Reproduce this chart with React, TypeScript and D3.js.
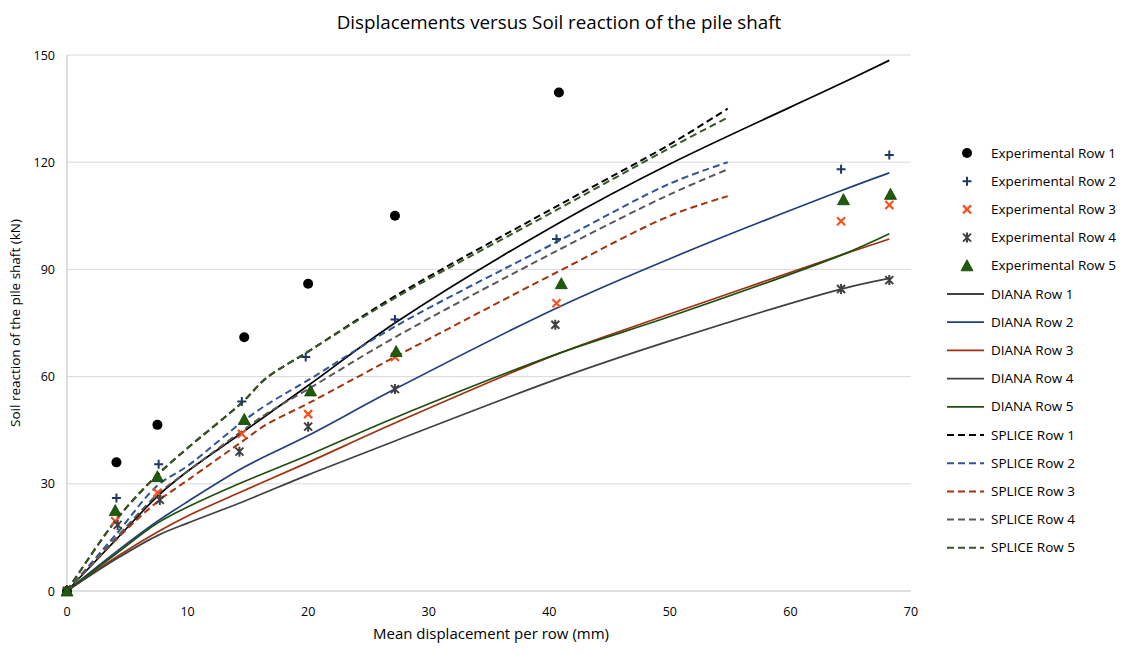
import React from "react";
import * as d3 from "d3";

// ---------- data ----------
const expX1 = [0, 4.1, 7.5, 14.7, 20, 27.2, 40.8];
const expY1 = [0, 36, 46.5, 71, 86, 105, 139.5];
const expX2 = [0, 4.1, 7.6, 14.5, 19.8, 27.2, 40.6, 64.2, 68.2];
const expY2 = [0, 26, 35.5, 53, 65.5, 76, 98.5, 118, 122];
const expX3 = [0, 4.0, 7.5, 14.5, 20, 27.2, 40.6, 64.2, 68.2];
const expY3 = [0, 19.5, 27.5, 44, 49.5, 65.5, 80.5, 103.5, 108];
const expX4 = [0, 4.2, 7.7, 14.3, 20, 27.2, 40.5, 64.2, 68.2];
const expY4 = [0, 18.5, 25.5, 39, 46, 56.5, 74.5, 84.5, 87];
const expX5 = [0, 4.0, 7.5, 14.7, 20.2, 27.3, 41, 64.4, 68.3];
const expY5 = [0, 22.5, 32, 48, 56, 67, 86, 109.5, 111];

const dianaX = [0, 4.1, 7.5, 10, 14.6, 20, 27.2, 40.8, 50, 64.2, 68.2];
const diana1 = [0, 14.5, 26.5, 33.5, 44.5, 57.5, 75, 103, 119.5, 142, 148.5];
const diana2 = [0, 11, 19.5, 25, 34.5, 43.5, 56.5, 79.5, 93, 112, 117];
const diana3 = [0, 9.5, 16.5, 21, 28, 36, 47, 66.5, 77.5, 94, 98.5];
const diana4 = [0, 9, 15.5, 19, 25, 32.5, 42, 59.5, 70, 84.5, 87.5];
const diana5 = [0, 10.5, 19, 23.5, 30.5, 38, 48.5, 66.5, 76.8, 94, 100];

const spliceX = [0, 4.1, 7.5, 10, 14.6, 16.5, 20, 27.2, 40.8, 50, 54.8];
const splice1 = [0, 20, 32.5, 40, 53, 59.5, 67, 82.5, 108, 125, 135];
const splice2 = [0, 16, 29.5, 35, 47.5, 52, 59, 74, 98, 114, 120];
const splice3 = [0, 14.5, 25, 31, 42, 46.5, 52.5, 65.5, 89.5, 105, 110.5];
const splice4 = [0, 15, 27, 33.5, 45, 49.5, 56.5, 71, 95.5, 111, 118];
const splice5 = [0, 20, 32.5, 40, 53, 59.5, 67, 82, 107, 124, 132.5];

const xTicks = [0, 10, 20, 30, 40, 50, 60, 70];
const yTicks = [0, 30, 60, 90, 120, 150];

const expNames = ["Experimental Row 1", "Experimental Row 2", "Experimental Row 3", "Experimental Row 4", "Experimental Row 5"];
const dianaNames = ["DIANA Row 1", "DIANA Row 2", "DIANA Row 3", "DIANA Row 4", "DIANA Row 5"];
const spliceNames = ["SPLICE Row 1", "SPLICE Row 2", "SPLICE Row 3", "SPLICE Row 4", "SPLICE Row 5"];

const expColors = ["#000000", "#1f3864", "#f4511e", "#404040", "#1e5b0a"];
const dianaColors = ["#000000", "#1f3f7a", "#a0300f", "#404040", "#1f4f0f"];
const spliceColors = ["#000000", "#2f5597", "#a5330f", "#595959", "#385723"];
const markerKinds = ["circle", "plus", "x", "star", "triangle"];

// ---------- layout ----------
const W = 1126;
const H = 659;
const left = 67;
const right = 911;
const top = 55;
const bottom = 591;
const FONT = "'Open Sans', sans-serif";

function Marker({ kind, x, y, color }: { kind: string; x: number; y: number; color: string }) {
  if (kind === "circle") return <circle cx={x} cy={y} r={5} fill={color} />;
  if (kind === "plus")
    return (
      <path d={`M${x - 4.5},${y}H${x + 4.5}M${x},${y - 4.5}V${y + 4.5}`} stroke={color} strokeWidth={2} fill="none" />
    );
  if (kind === "x")
    return (
      <path d={`M${x - 4},${y - 4}L${x + 4},${y + 4}M${x - 4},${y + 4}L${x + 4},${y - 4}`} stroke={color} strokeWidth={2.2} fill="none" />
    );
  if (kind === "star")
    return (
      <path
        d={`M${x - 4},${y - 4}L${x + 4},${y + 4}M${x - 4},${y + 4}L${x + 4},${y - 4}M${x},${y - 5}V${y + 5}`}
        stroke={color}
        strokeWidth={2}
        fill="none"
      />
    );
  return (
    <path
      d={`M${x},${y - 6}L${x + 6},${y + 5}L${x - 6},${y + 5}Z`}
      fill={color}
      stroke="#143d06"
      strokeWidth={0.8}
    />
  );
}

export default function App() {
  const xs = d3.scaleLinear().domain([0, 70]).range([left, right]);
  const ys = d3.scaleLinear().domain([0, 150]).range([bottom, top]);
  const line = d3
    .line<[number, number]>()
    .x((d) => xs(d[0]))
    .y((d) => ys(d[1]))
    .curve(d3.curveCatmullRom.alpha(0.5));

  const expSeries = [
    [expX1, expY1],
    [expX2, expY2],
    [expX3, expY3],
    [expX4, expY4],
    [expX5, expY5],
  ];
  const dianaSeries = [diana1, diana2, diana3, diana4, diana5];
  const spliceSeries = [splice1, splice2, splice3, splice4, splice5];

  const legendX = 947;
  const legendY0 = 153;
  const legendStep = 28.2;

  return (
    <svg width={W} height={H} style={{ display: "block", position: "absolute", left: 0, top: 0, background: "#fff" }} fontFamily={FONT}>
      <rect x={0} y={0} width={W} height={H} fill="#fff" />
      <text x={559} y={29} textAnchor="middle" fontSize={18.8} fill="#000">
        Displacements versus Soil reaction of the pile shaft
      </text>
      {/* grid */}
      {yTicks.map((t) => (
        <line key={t} x1={left} x2={right} y1={ys(t)} y2={ys(t)} stroke={t === 0 ? "#bfbfbf" : "#d9d9d9"} strokeWidth={1} />
      ))}
      <line x1={left} x2={left} y1={top} y2={bottom} stroke="#bfbfbf" strokeWidth={1} />
      {/* tick labels */}
      {yTicks.map((t) => (
        <text key={t} x={55} y={ys(t) + 4.5} textAnchor="end" fontSize={12.5} fill="#000">
          {t}
        </text>
      ))}
      {xTicks.map((t) => (
        <text key={t} x={xs(t)} y={616} textAnchor="middle" fontSize={12.5} fill="#000">
          {t}
        </text>
      ))}
      <text x={491} y={639} textAnchor="middle" fontSize={15} fill="#000">
        Mean displacement per row (mm)
      </text>
      <text transform={`translate(20,${(top + bottom) / 2}) rotate(-90)`} textAnchor="middle" fontSize={13.5} fill="#000">
        Soil reaction of the pile shaft (kN)
      </text>
      {/* DIANA lines */}
      {dianaSeries.map((s, i) => (
        <path key={"d" + i} d={line(dianaX.map((x, j) => [x, s[j]]) as [number, number][]) || ""} fill="none" stroke={dianaColors[i]} strokeWidth={1.7} />
      ))}
      {/* SPLICE lines */}
      {spliceSeries.map((s, i) => (
        <path
          key={"s" + i}
          d={line(spliceX.map((x, j) => [x, s[j]]) as [number, number][]) || ""}
          fill="none"
          stroke={spliceColors[i]}
          strokeWidth={2}
          strokeDasharray="7,4"
        />
      ))}
      {/* experimental markers */}
      {expSeries.map(([sx, sy], i) =>
        sx.map((x, j) => <Marker key={"e" + i + "-" + j} kind={markerKinds[i]} x={xs(x)} y={ys(sy[j])} color={expColors[i]} />)
      )}
      {/* legend */}
      {expNames.map((n, i) => {
        const y = legendY0 + i * legendStep;
        return (
          <g key={n}>
            <Marker kind={markerKinds[i]} x={legendX + 20} y={y} color={expColors[i]} />
            <text x={991} y={y + 4.5} fontSize={13.5} fill="#000">
              {n}
            </text>
          </g>
        );
      })}
      {dianaNames.map((n, i) => {
        const y = legendY0 + (i + 5) * legendStep;
        return (
          <g key={n}>
            <line x1={legendX} x2={legendX + 37} y1={y} y2={y} stroke={dianaColors[i]} strokeWidth={1.7} />
            <text x={991} y={y + 4.5} fontSize={13.5} fill="#000">
              {n}
            </text>
          </g>
        );
      })}
      {spliceNames.map((n, i) => {
        const y = legendY0 + (i + 10) * legendStep;
        return (
          <g key={n}>
            <line x1={legendX} x2={legendX + 37} y1={y} y2={y} stroke={spliceColors[i]} strokeWidth={2} strokeDasharray="7,4" />
            <text x={991} y={y + 4.5} fontSize={13.5} fill="#000">
              {n}
            </text>
          </g>
        );
      })}
    </svg>
  );
}
